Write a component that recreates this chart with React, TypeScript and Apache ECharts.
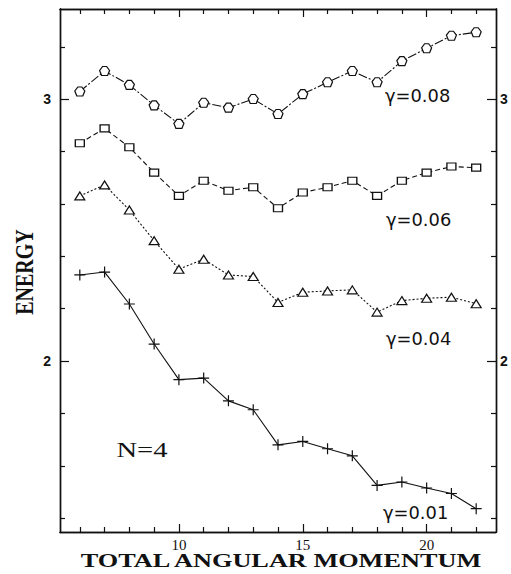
import React, { useEffect, useRef } from 'react';
import * as echarts from 'echarts';

const angularMomentum = [6, 7, 8, 9, 10, 11, 12, 13, 14, 15, 16, 17, 18, 19, 20, 21, 22];
const gamma008 = [3.03, 3.108, 3.055, 2.977, 2.906, 2.987, 2.968, 3.001, 2.944, 3.02, 3.065, 3.108, 3.065, 3.146, 3.195, 3.243, 3.256];
const gamma006 = [2.832, 2.889, 2.817, 2.72, 2.631, 2.689, 2.651, 2.664, 2.584, 2.644, 2.664, 2.689, 2.631, 2.689, 2.72, 2.743, 2.739];
const gamma004 = [2.631, 2.673, 2.577, 2.46, 2.351, 2.389, 2.329, 2.323, 2.224, 2.263, 2.268, 2.272, 2.187, 2.231, 2.24, 2.244, 2.219];
const gamma001 = [2.329, 2.34, 2.218, 2.065, 1.929, 1.935, 1.848, 1.814, 1.68, 1.693, 1.665, 1.638, 1.525, 1.538, 1.515, 1.494, 1.436];

const xMajorTicks = [10, 15, 20];
const xMinorTicks = [6, 7, 8, 9, 11, 12, 13, 14, 16, 17, 18, 19, 21, 22];
const yMajorTicks = [2, 3];
const yMinorTicks = [1.4, 1.6, 1.8, 2.2, 2.4, 2.6, 2.8, 3.2];

const seriesNames = ['γ=0.08', 'γ=0.06', 'γ=0.04', 'γ=0.01'];

const INK = '#111';
const X_MIN = 5.2;
const X_MAX = 22.8;
const Y_MIN = 1.347;
const Y_MAX = 3.345;

function xAxisDef(position: 'top' | 'bottom', ticks: number[], len: number, labels: boolean) {
  return {
    type: 'value',
    position,
    min: X_MIN,
    max: X_MAX,
    splitLine: { show: false },
    axisLine: { show: true, onZero: false, lineStyle: { color: INK, width: 1.4 } },
    axisTick: { show: true, inside: true, length: len, customValues: ticks, lineStyle: { color: INK, width: 1.2 } },
    axisLabel: {
      show: labels,
      customValues: ticks,
      color: INK,
      fontFamily: 'Liberation Serif',
      fontSize: 15,
      margin: 5,
    },
  };
}

function yAxisDef(position: 'left' | 'right', ticks: number[], len: number, labels: boolean) {
  return {
    type: 'value',
    position,
    min: Y_MIN,
    max: Y_MAX,
    splitLine: { show: false },
    axisLine: { show: true, onZero: false, lineStyle: { color: INK, width: 1.4 } },
    axisTick: { show: true, inside: true, length: len, customValues: ticks, lineStyle: { color: INK, width: 1.2 } },
    axisLabel: {
      show: labels,
      customValues: ticks,
      color: INK,
      fontFamily: 'Liberation Sans',
      fontWeight: 'bold',
      fontSize: 14,
      margin: position === 'left' ? 9 : 4,
    },
  };
}

function makeSeries(name: string, values: number[], symbol: string, size: number | number[], dash: any) {
  return {
    name,
    type: 'line',
    xAxisIndex: 0,
    yAxisIndex: 0,
    data: angularMomentum.map((x, i) => [x, values[i]]),
    symbol,
    symbolSize: size,
    showAllSymbol: true,
    lineStyle: { color: INK, width: 1.1, type: dash },
    itemStyle: { color: '#fff', borderColor: INK, borderWidth: 1.2 },
    z: 3,
  };
}

export default function App() {
  const ref = useRef<HTMLDivElement>(null);
  useEffect(() => {
    const chart = echarts.init(ref.current!, null, { renderer: 'svg' });
    const labelStyle = (text: string) => ({
      text,
      fill: INK,
      font: '17px "DejaVu Sans"',
      align: 'left',
      verticalAlign: 'middle',
    });
    chart.setOption({
      animation: false,
      backgroundColor: '#fff',
      grid: { left: 60, right: 15, top: 9, bottom: 42, containLabel: false },
      xAxis: [
        xAxisDef('bottom', xMajorTicks, 8, true),
        xAxisDef('bottom', xMinorTicks, 5, false),
        xAxisDef('top', xMajorTicks, 8, false),
        xAxisDef('top', xMinorTicks, 5, false),
      ],
      yAxis: [
        yAxisDef('left', yMajorTicks, 9, true),
        yAxisDef('left', yMinorTicks, 5, false),
        yAxisDef('right', yMajorTicks, 9, true),
        yAxisDef('right', yMinorTicks, 5, false),
      ],
      series: [
        makeSeries(seriesNames[0], gamma008, 'path://M3,0 L7,0 L10,4 L8,9 L2,9 L0,4 Z', [10, 9], [9, 2, 2, 2]),
        makeSeries(seriesNames[1], gamma006, 'rect', [9, 7], [5, 3]),
        makeSeries(seriesNames[2], gamma004, 'triangle', [10, 8], [2, 2]),
        {
          ...makeSeries(seriesNames[3], gamma001, 'path://M0,5 L10,5 M5,0 L5,10', [11, 11], 'solid'),
          itemStyle: { color: INK, borderColor: INK, borderWidth: 1.2 },
        },
      ],
      graphic: [
        { type: 'text', x: 385, y: 96, scaleX: 1.05, style: labelStyle(seriesNames[0]) },
        { type: 'text', x: 386, y: 220, scaleX: 1.05, style: labelStyle(seriesNames[1]) },
        { type: 'text', x: 386, y: 339, scaleX: 1.05, style: labelStyle(seriesNames[2]) },
        { type: 'text', x: 383, y: 513, scaleX: 1.05, style: labelStyle(seriesNames[3]) },
        {
          type: 'text',
          x: 142,
          y: 450,
          scaleX: 1.36,
          style: { text: 'N=4', fill: INK, font: '21px "Liberation Serif"', align: 'center', verticalAlign: 'middle' },
        },
        {
          type: 'text',
          x: 281,
          y: 561,
          scaleX: 1.46,
          style: {
            text: 'TOTAL ANGULAR MOMENTUM',
            fill: INK,
            font: 'bold 18px "Liberation Serif"',
            align: 'center',
            verticalAlign: 'middle',
          },
        },
        {
          type: 'text',
          x: 24,
          y: 272,
          rotation: Math.PI / 2,
          scaleY: 1.3,
          style: {
            text: 'ENERGY',
            fill: INK,
            font: 'bold 20px "Liberation Serif"',
            align: 'center',
            verticalAlign: 'middle',
          },
        },
      ],
    });
    return () => chart.dispose();
  }, []);
  return (
    <div
      ref={ref}
      style={{ position: 'fixed', left: 0, top: 0, width: 511, height: 574, background: '#fff' }}
    />
  );
}
